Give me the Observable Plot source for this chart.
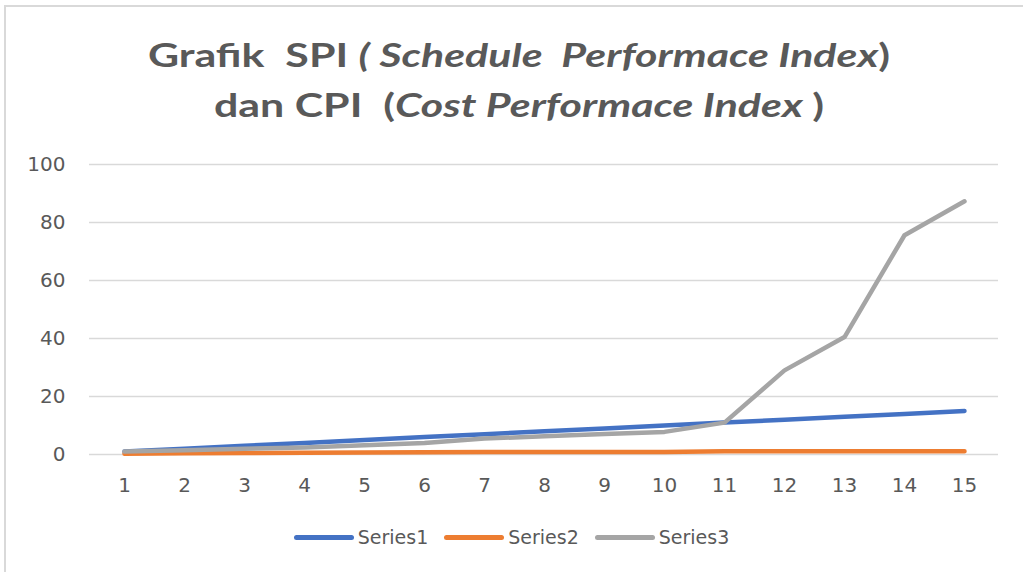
<!DOCTYPE html>
<html>
<head>
<meta charset="utf-8">
<script src="https://cdn.jsdelivr.net/npm/d3@7"></script>
<script src="https://cdn.jsdelivr.net/npm/@observablehq/plot@0.6"></script>
<style>
  html, body { margin: 0; padding: 0; background: #fff; }
  #frame { position: relative; width: 1023px; height: 572px; overflow: hidden; font-family: Lato, "Open Sans", sans-serif; }
  #border { position: absolute; left: 4px; top: 5px; width: 1030px; height: 600px; border-left: 2px solid #d9d9d9; border-top: 2px solid #d9d9d9; box-sizing: border-box; }
  #title { position: absolute; left: 0; width: 1038px; top: 29px; text-align: center; color: #595959; font-weight: bold; font-size: 33px; line-height: 50px; transform: scaleX(1.3); transform-origin: 519px 0; white-space: nowrap; }
  #chart { position: absolute; left: 0; top: 140px; }
  #legend { position: absolute; top: 526px; left: 0; width: 1023px; display: flex; justify-content: center; gap: 16px; color: #595959; font-family: "DejaVu Sans", sans-serif; font-size: 19px; }
  .item { display: flex; align-items: center; }
  .sw { width: 60px; height: 5px; border-radius: 3px; margin-right: 4px; }
</style>
</head>
<body>
<div id="frame">
  <div id="border"></div>
  <div id="title">Grafik&nbsp; SPI <i>( Schedule&nbsp; Performace Index</i>)<br>dan CPI&nbsp; (<i>Cost Performace Index </i>)</div>
  <div id="chart"></div>
  <div id="legend"></div>
</div>
<script>
const categories = [1,2,3,4,5,6,7,8,9,10,11,12,13,14,15];
const seriesNames = ["Series1", "Series2", "Series3"];
const series1 = [1,2,3,4,5,6,7,8,9,10,11,12,13,14,15];
const series2 = [0.3,0.4,0.5,0.6,0.7,0.8,0.9,0.9,0.9,0.9,1.1,1.1,1.1,1.1,1.1];
const series3 = [1,1.5,2,2.4,3.2,4,5.5,6.3,7.1,7.8,11,29,40.5,75.6,87.3];
const yTicks = [0,20,40,60,80,100];
const colors = ["#4472C4", "#ED7D31", "#A5A5A5"];

const allSeries = [series1, series2, series3];
const data = [];
allSeries.forEach((vals, si) => {
  vals.forEach((v, i) => data.push({series: seriesNames[si], x: categories[i], y: v}));
});

const chart = Plot.plot({
  width: 1023,
  height: 370,
  marginLeft: 89,
  marginRight: 25,
  marginTop: 24,
  marginBottom: 56,
  style: { fontFamily: "'DejaVu Sans', sans-serif", fontSize: "20px", color: "#595959", background: "transparent" },
  x: { type: "point", domain: categories, padding: 0.5, label: null },
  y: { domain: [0, 100], label: null },
  color: { domain: seriesNames, range: colors },
  marks: [
    Plot.ruleY(yTicks, { stroke: "#d9d9d9", strokeWidth: 1.5 }),
    Plot.axisY({ ticks: yTicks, tickSize: 0, tickPadding: 24, label: null, fill: "#595959", fontSize: 20 }),
    Plot.axisX({ tickSize: 0, tickPadding: 23, label: null, fill: "#595959", fontSize: 20 }),
    Plot.line(data, { x: "x", y: "y", z: "series", stroke: "series", strokeWidth: 4.5, strokeLinecap: "round", strokeLinejoin: "round" })
  ]
});
document.getElementById("chart").appendChild(chart);

const legend = document.getElementById("legend");
seriesNames.forEach((name, i) => {
  const item = document.createElement("div");
  item.className = "item";
  const sw = document.createElement("div");
  sw.className = "sw";
  sw.style.background = colors[i];
  const lab = document.createElement("span");
  lab.textContent = name;
  item.appendChild(sw);
  item.appendChild(lab);
  legend.appendChild(item);
});
</script>
</body>
</html>
